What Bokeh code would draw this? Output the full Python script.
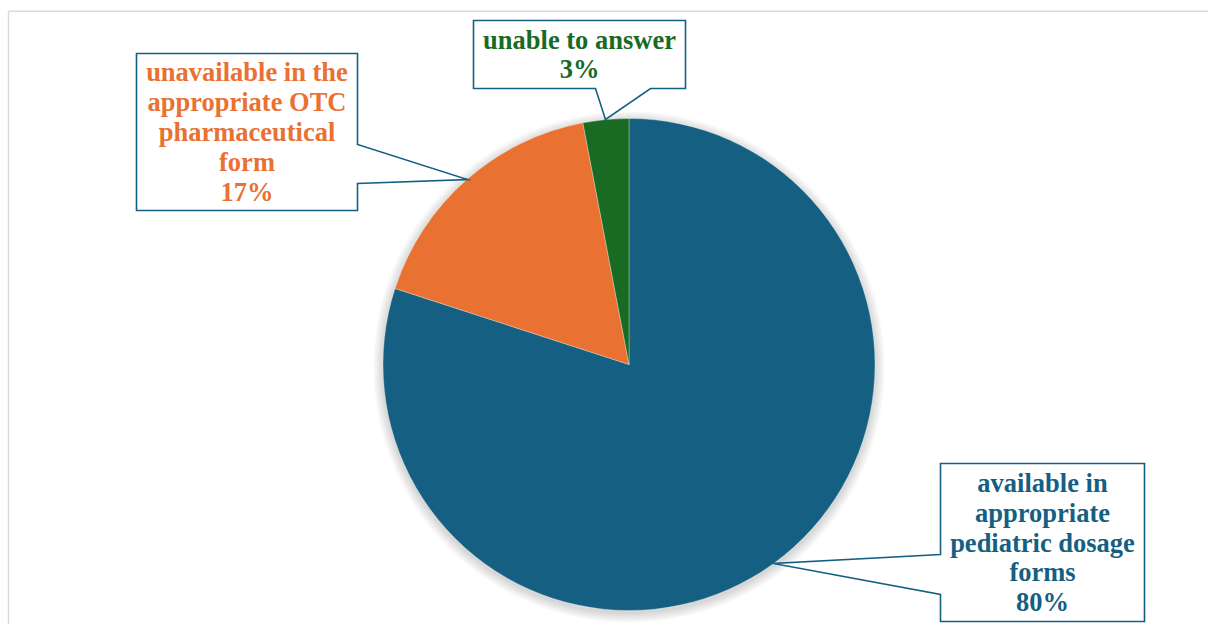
import math
from bokeh.plotting import figure
from bokeh.models import Range1d
from bokeh.core.properties import value
from bokeh.embed import file_html
from bokeh.resources import INLINE

# ---- data ----
categories = [
    "available in appropriate pediatric dosage forms",
    "unavailable in the appropriate OTC pharmaceutical form",
    "unable to answer",
]
shares = [80, 17, 3]
label_texts = [
    "available in\nappropriate\npediatric dosage\nforms",
    "unavailable in the\nappropriate OTC\npharmaceutical\nform",
    "unable to answer",
]
pct_labels = ["80%", "17%", "3%"]
colors = ["#156082", "#E97132", "#196B24"]

# ---- layout (page pixel coordinates) ----
W, H = 1208, 624
CX, CY, R = 628.5, 364, 246
# callout boxes: left, top, right, bottom, pointer (base1, base2, tip)
boxes = [
    dict(l=940, t=463, r=1144, b=621, side="left", b1=554, b2=594, tip=(773, 563)),
    dict(l=136, t=53, r=357, b=210, side="right", b1=144, b2=183, tip=(467, 179)),
    dict(l=473, t=20, r=685, b=88, side="bottom", b1=595, b2=650, tip=(605, 119)),
]
LINE_H = 29.8
FONT = "Liberation Serif"
BORDER = "#156082"


def Y(py):
    return H - py


p = figure(width=W, height=H, x_range=Range1d(0, W), y_range=Range1d(0, H),
           output_backend="svg", toolbar_location=None, min_border=0,
           background_fill_color="white", border_fill_color="white")
p.axis.visible = False
p.grid.visible = False
p.outline_line_color = None

# chart area border (light gray)
p.line([8.0, 8.0], [Y(640), Y(10.75)], line_color="#d9d9d9", line_width=1.5)
p.line([8.0, 1220], [Y(10.75), Y(10.75)], line_color="#d9d9d9", line_width=1.5)

# soft shadow
for k in range(1, 11):
    p.circle(x=[CX], y=[Y(CY + 2.5)], radius=R + k, fill_color="black",
             fill_alpha=0.017, line_color=None)

# pie slices, starting at 12 o'clock, clockwise
total = float(sum(shares))
cum = 0.0
for s, c in zip(shares, colors):
    f0 = cum / total
    f1 = (cum + s) / total
    cum += s
    a_start = math.pi / 2 - 2 * math.pi * f1
    a_end = math.pi / 2 - 2 * math.pi * f0
    p.wedge(x=[CX], y=[Y(CY)], radius=R, start_angle=a_start, end_angle=a_end,
            fill_color=c, line_color="white", line_width=0.6, line_alpha=0.5)

# callouts
for bx, lab, pct, c in zip(boxes, label_texts, pct_labels, colors):
    l, t, r, b = bx["l"], bx["t"], bx["r"], bx["b"]
    tx, ty = bx["tip"]
    if bx["side"] == "left":
        pts = [(l, t), (r, t), (r, b), (l, b), (l, bx["b2"]), (tx, ty), (l, bx["b1"])]
    elif bx["side"] == "right":
        pts = [(l, t), (r, t), (r, bx["b1"]), (tx, ty), (r, bx["b2"]), (r, b), (l, b)]
    else:
        pts = [(l, t), (r, t), (r, b), (bx["b2"], b), (tx, ty), (bx["b1"], b), (l, b)]
    p.patch([q[0] for q in pts], [Y(q[1]) for q in pts], fill_color="white",
            line_color=BORDER, line_width=1.6, line_join="miter")
    lines = lab.split("\n") + [pct]
    n = len(lines)
    mid = (t + b) / 2
    ys = [mid + (i - (n - 1) / 2) * LINE_H for i in range(n)]
    p.text(x=[(l + r) / 2] * n, y=[Y(v) for v in ys], text=lines,
           text_font=value(FONT), text_font_style="bold", text_font_size="26.5px",
           text_color=c, text_align="center", text_baseline="middle")

open("out.html", "w").write(file_html(p, INLINE))
